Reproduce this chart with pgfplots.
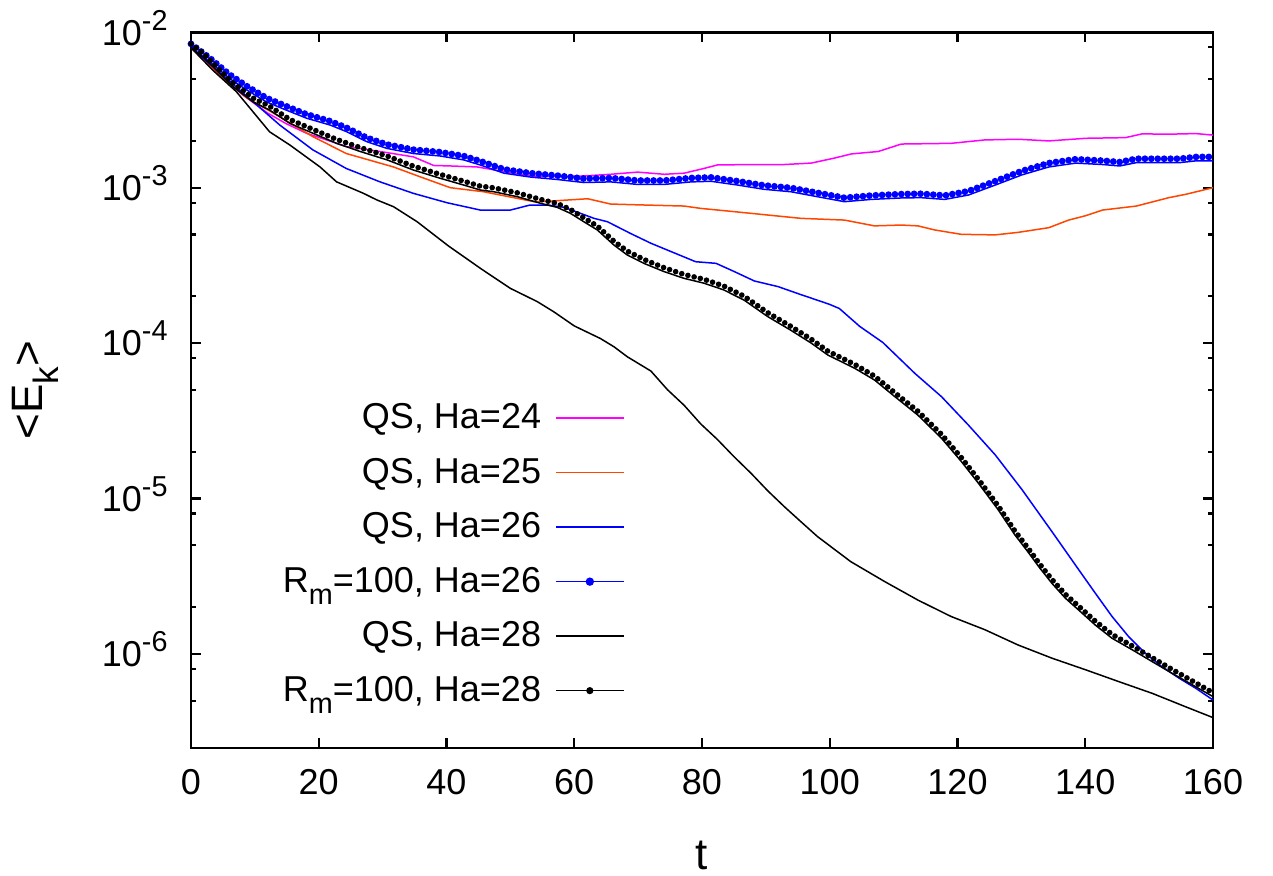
\documentclass[border=0pt]{standalone}
\usepackage{pgfplots}
\pgfplotsset{compat=1.18}
\usepackage{pgfplotstable}
\usepackage{fontspec}
\setmainfont{Liberation Sans}
\usetikzlibrary{decorations.markings}
\definecolor{qsmag}{RGB}{255,0,255}
\definecolor{qsorg}{RGB}{255,69,0}
\definecolor{qsblue}{RGB}{0,0,255}
\newcommand{\dec}[1]{10\raisebox{7.5bp}{\fontsize{14.4bp}{14.4bp}\selectfont -#1}}
\newcommand{\subm}{\raisebox{-6bp}{\fontsize{14.4bp}{14.4bp}\selectfont m}}
\newcommand{\dotfix}{\pgftransformresetnontranslations\pgftransformshift{\pgfqpoint{0bp}{-31.8bp}}}

\pgfplotstableread{
t E
0 7.96e-3
4.0 5.62e-3
8.0 3.98e-3
12.0 3.02e-3
15.0 2.57e-3
18.1 2.24e-3
24.3 1.84e-3
29.6 1.71e-3
34.8 1.58e-3
38.0 1.39e-3
40.6 1.38e-3
44.8 1.36e-3
49.0 1.27e-3
53.2 1.19e-3
57.3 1.18e-3
61.5 1.19e-3
65.7 1.22e-3
69.9 1.26e-3
74.1 1.22e-3
77.2 1.24e-3
80.3 1.33e-3
82.4 1.40e-3
87.7 1.41e-3
92.9 1.41e-3
97.1 1.44e-3
100.7 1.55e-3
103.4 1.65e-3
107.6 1.71e-3
111.2 1.91e-3
119.0 1.93e-3
124.3 2.03e-3
129.5 2.05e-3
134.3 2.00e-3
140.1 2.08e-3
146.3 2.10e-3
148.9 2.22e-3
153.1 2.21e-3
157.3 2.23e-3
160.0 2.18e-3
}\haA

\pgfplotstableread{
t E
0 7.96e-3
4.0 5.50e-3
8.7 3.80e-3
13.9 2.86e-3
19.0 2.14e-3
24.3 1.66e-3
31.7 1.36e-3
36.0 1.17e-3
40.6 1.00e-3
45.8 9.42e-4
53.7 8.13e-4
56.3 8.20e-4
62.1 8.49e-4
65.7 7.85e-4
70.9 7.74e-4
77.2 7.62e-4
79.8 7.36e-4
85.1 7.01e-4
90.3 6.67e-4
95.5 6.35e-4
102.3 6.19e-4
107.0 5.68e-4
111.2 5.75e-4
113.8 5.68e-4
116.4 5.35e-4
120.6 5.01e-4
125.9 4.97e-4
129.5 5.16e-4
134.3 5.53e-4
137.4 6.19e-4
140.1 6.61e-4
142.7 7.18e-4
148.0 7.62e-4
153.1 8.63e-4
155.7 9.06e-4
157.4 9.42e-4
160.0 1.00e-3
}\haB

\pgfplotstableread{
t E
0 7.96e-3
4.0 5.75e-3
8.7 3.89e-3
13.9 2.53e-3
19.1 1.75e-3
24.3 1.33e-3
29.6 1.09e-3
34.8 9.20e-4
40.1 8.00e-4
45.3 7.18e-4
50.0 7.18e-4
53.1 7.74e-4
55.8 7.74e-4
58.4 7.48e-4
63.1 6.35e-4
65.2 6.04e-4
68.8 5.08e-4
72.0 4.39e-4
75.1 3.89e-4
79.0 3.34e-4
82.2 3.26e-4
85.1 2.88e-4
88.2 2.51e-4
91.9 2.31e-4
95.2 2.07e-4
99.9 1.78e-4
101.5 1.67e-4
104.7 1.28e-4
108.3 1.01e-4
113.3 6.40e-5
117.5 4.52e-5
121.7 2.97e-5
125.9 1.91e-5
130.1 1.14e-5
134.8 6.11e-6
139.0 3.47e-6
141.6 2.45e-6
144.2 1.74e-6
146.8 1.29e-6
149.4 1.01e-6
152.0 8.28e-7
154.7 6.97e-7
157.3 6.01e-7
160.0 5.05e-7
}\haC

\pgfplotstableread{
t E
0 7.96e-3
2.9 6.47e-3
6.0 5.06e-3
8.7 4.26e-3
11.8 3.57e-3
14.9 3.16e-3
18.1 2.80e-3
21.8 2.53e-3
24.4 2.29e-3
27.5 1.98e-3
30.7 1.79e-3
34.8 1.66e-3
39.0 1.60e-3
42.7 1.51e-3
45.3 1.40e-3
49.0 1.24e-3
53.2 1.17e-3
57.3 1.13e-3
61.5 1.08e-3
65.7 1.09e-3
69.9 1.05e-3
74.1 1.05e-3
78.3 1.09e-3
81.4 1.10e-3
85.6 1.04e-3
89.7 9.77e-4
93.9 9.42e-4
98.1 8.75e-4
102.3 8.13e-4
106.5 8.41e-4
111.2 8.59e-4
114.3 8.63e-4
118.0 8.41e-4
121.7 8.97e-4
125.9 1.04e-3
130.1 1.21e-3
134.3 1.36e-3
138.5 1.44e-3
142.7 1.41e-3
145.4 1.38e-3
148.0 1.45e-3
152.2 1.45e-3
154.8 1.45e-3
157.4 1.49e-3
160.0 1.49e-3
}\rmC

\pgfplotstableread{
t E
0 7.96e-3
3.4 5.71e-3
7.1 4.15e-3
12.3 2.29e-3
15.5 1.88e-3
20.2 1.36e-3
22.8 1.09e-3
27.0 9.20e-4
29.1 8.34e-4
31.7 7.55e-4
35.4 6.04e-4
40.3 4.22e-4
45.5 2.99e-4
50.0 2.25e-4
54.2 1.85e-4
56.8 1.59e-4
60.0 1.29e-4
64.1 1.07e-4
66.2 9.48e-5
68.3 8.17e-5
72.0 6.61e-5
74.6 5.01e-5
77.2 3.98e-5
79.8 3.02e-5
82.4 2.40e-5
85.0 1.86e-5
87.7 1.45e-5
90.3 1.12e-5
92.9 8.85e-6
95.5 7.08e-6
98.1 5.68e-6
103.3 3.92e-6
108.6 2.92e-6
113.8 2.22e-6
119.0 1.74e-6
124.3 1.43e-6
129.5 1.14e-6
134.8 9.38e-7
140.1 7.89e-7
145.3 6.62e-7
150.5 5.57e-7
155.7 4.57e-7
160.0 3.89e-7
}\haD

\pgfplotstableread{
t E
0 7.96e-3
1.85 6.97e-3
3.95 5.71e-3
6.56 4.47e-3
9.7 3.57e-3
12.3 3.16e-3
15.5 2.59e-3
19.1 2.24e-3
22.8 1.93e-3
26.5 1.71e-3
30.7 1.51e-3
34.8 1.30e-3
39.0 1.15e-3
42.7 1.04e-3
45.3 9.66e-4
47.4 9.42e-4
51.1 8.75e-4
54.7 7.94e-4
57.3 7.48e-4
59.4 6.84e-4
61.5 6.04e-4
63.6 5.35e-4
66.2 4.28e-4
68.3 3.69e-4
70.9 3.26e-4
74.1 2.88e-4
77.2 2.61e-4
80.3 2.43e-4
83.4 2.20e-4
86.6 1.89e-4
90.3 1.48e-4
93.9 1.21e-4
97.1 1.00e-4
99.7 8.38e-5
103.9 6.89e-5
107.0 5.79e-5
110.2 4.52e-5
113.8 3.44e-5
117.5 2.44e-5
120.6 1.73e-5
123.3 1.25e-5
126.4 8.43e-6
129.0 5.82e-6
131.0 4.55e-6
132.9 3.56e-6
134.8 2.84e-6
136.9 2.28e-6
139.0 1.91e-6
141.6 1.53e-6
144.2 1.26e-6
147.4 1.06e-6
150.5 8.91e-7
153.6 7.50e-7
156.8 6.31e-7
160.0 5.31e-7
}\rmD

\begin{document}
\begin{tikzpicture}
\begin{axis}[
  scale only axis, width=511bp, height=357.7bp,
  xmin=0, xmax=160, ymode=log, ymin=2.49e-7, ymax=1e-2,
  clip=false,
  axis line style={line width=1.2bp},
  tick style={black, line width=1.1bp},
  tick align=inside,
  major tick length=5bp, minor tick length=2.5bp,
  xtick={0,20,...,160},
  ytick={1e-6,1e-5,1e-4,1e-3,1e-2},
  yticklabels={\dec{6},\dec{5},\dec{4},\dec{3},\dec{2}},
  minor ytick={5e-7,8e-7,2e-6,5e-6,8e-6,2e-5,5e-5,8e-5,2e-4,5e-4,8e-4,2e-3,5e-3,8e-3},
  /pgf/number format/assume math mode=true,
  ticklabel style={font=\fontsize{18bp}{18bp}\selectfont, inner sep=0pt},
  xticklabel style={anchor=north, yshift=-10.5bp},
  yticklabel style={anchor=base east, xshift=-11.5bp, yshift=-6.4bp},
  xlabel={t},
  xlabel style={font=\fontsize{22bp}{22bp}\selectfont, at={(axis description cs:0.5,-0.1500)}, anchor=center, inner sep=0pt},
  ylabel={<E\raisebox{-8bp}{\fontsize{17.6bp}{17.6bp}\selectfont k}>},
  ylabel style={font=\fontsize{22bp}{22bp}\selectfont, at={(axis description cs:-0.1526,0.5)}, anchor=center, rotate=0},
  legend style={draw=none, fill=none, at={(axis description cs:0.4305,0.4909)}, anchor=north east,
    font=\fontsize{18bp}{18bp}\selectfont, row sep=0pt, column sep=7bp,
    nodes={inner sep=0pt, text height=14bp, text depth=13.25bp}},
  legend plot pos=right,
  legend cell align=right,
  legend image code/.code={\draw[#1, line width=0.75bp] (0bp,5bp) -- (34bp,5bp);},
  every axis plot/.append style={line width=0.75bp},
]
\addplot[qsmag] table[x=t,y=E] {\haA};
\addlegendentry{QS, Ha=24}
\addplot[qsorg] table[x=t,y=E] {\haB};
\addlegendentry{QS, Ha=25}
\addplot[qsblue] table[x=t,y=E] {\haC};
\addlegendentry{QS, Ha=26}
\addplot[qsblue, legend image code/.code={\draw[qsblue, line width=0.75bp] (0bp,5bp) -- (34bp,5bp); \fill[qsblue] (17bp,5bp) circle (1.7bp);}] table[x=t,y=E] {\rmC};
\addlegendentry{R\subm=100, Ha=26}
\addplot[draw=none, forget plot, postaction={decorate}, decoration={markings, mark=between positions 0 and 1 step 3.2bp with {\dotfix\fill[qsblue] (0,0) circle (1.7bp);}}] table[x=t,y=E] {\rmC};
\addplot[black] table[x=t,y=E] {\haD};
\addlegendentry{QS, Ha=28}
\addplot[black, legend image code/.code={\draw[black, line width=0.75bp] (0bp,5bp) -- (34bp,5bp); \fill[black] (17bp,5bp) circle (1.4bp);}] table[x=t,y=E] {\rmD};
\addlegendentry{R\subm=100, Ha=28}
\addplot[draw=none, forget plot, postaction={decorate}, decoration={markings, mark=between positions 0 and 1 step 3.2bp with {\dotfix\fill[black] (0,0) circle (1.4bp);}}] table[x=t,y=E] {\rmD};
\end{axis}
\pgfresetboundingbox
\path[use as bounding box] ([shift={(-95.5bp,-64.15bp)}]current axis.south west) rectangle ([shift={(541bp,373.85bp)}]current axis.south west);
\end{tikzpicture}
\end{document}
